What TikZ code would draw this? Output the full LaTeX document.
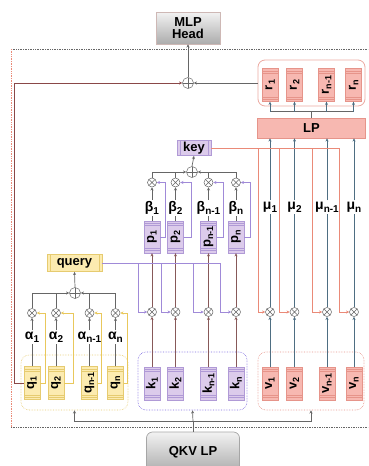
\documentclass[tikz,border=0pt]{standalone}
\usepackage{fontspec}
\setmainfont{Liberation Sans}
\usetikzlibrary{arrows.meta,calc}
\definecolor{qfill}{HTML}{FCEBB0}
\definecolor{qedge}{HTML}{E6CB70}
\definecolor{kfill}{HTML}{DCCBEB}
\definecolor{kedge}{HTML}{B09AD6}
\definecolor{vfill}{HTML}{F7B8B1}
\definecolor{vedge}{HTML}{E6948A}
\definecolor{lgray}{HTML}{666666}
\definecolor{lyel}{HTML}{E9C85C}
\definecolor{lpur}{HTML}{A08AD8}
\definecolor{lred}{HTML}{EA8A78}
\definecolor{lslate}{HTML}{4E6E82}
\definecolor{lloop}{HTML}{8A4848}
\newcommand{\tk}[2]{{\fontsize{13}{13}\selectfont\bfseries #1\raisebox{-2.5pt}{\fontsize{9}{9}\selectfont #2}}}
\newcommand{\gl}[2]{{\fontsize{14}{14}\selectfont\bfseries #1\raisebox{-3pt}{\fontsize{10}{10}\selectfont #2}}}
\tikzset{
  >={Stealth[length=3.2pt,width=3pt]},
  every path/.style={line width=0.7pt},
  vbars/.style={path picture={
    \draw[#1,line width=0.4pt]
      ([yshift=-2.5pt]path picture bounding box.north west) -- ([yshift=-2.5pt]path picture bounding box.north east)
      ([yshift=-4.5pt]path picture bounding box.north west) -- ([yshift=-4.5pt]path picture bounding box.north east)
      ([yshift=2.5pt]path picture bounding box.south west) -- ([yshift=2.5pt]path picture bounding box.south east)
      ([yshift=4.5pt]path picture bounding box.south west) -- ([yshift=4.5pt]path picture bounding box.south east);}},
  hbars/.style={path picture={
    \draw[#1,line width=0.4pt]
      ([xshift=3pt]path picture bounding box.north west) -- ([xshift=3pt]path picture bounding box.south west)
      ([xshift=-3pt]path picture bounding box.north east) -- ([xshift=-3pt]path picture bounding box.south east);}},
  tokbase/.style={minimum width=16pt, minimum height=33pt, inner sep=0pt, line width=0.4pt},
  tq/.style={tokbase, draw=qedge, fill=qfill, vbars=qedge},
  tkk/.style={tokbase, draw=kedge, fill=kfill, vbars=kedge},
  tv/.style={tokbase, draw=vedge, fill=vfill, vbars=vedge},
  mul/.style={circle, draw=lgray, fill=white, minimum size=9pt, inner sep=0pt, line width=0.5pt,
    path picture={\draw[lgray,line width=0.5pt] (path picture bounding box.north west) -- (path picture bounding box.south east)
      (path picture bounding box.north east) -- (path picture bounding box.south west);}},
  addc/.style={circle, draw=lgray, fill=white, minimum size=11pt, inner sep=0pt, line width=0.5pt,
    path picture={\draw[lgray,line width=0.5pt] (path picture bounding box.north) -- (path picture bounding box.south)
      (path picture bounding box.west) -- (path picture bounding box.east);}},
  lab/.style={inner sep=1pt},
  grp/.style={rounded corners=8pt, densely dotted, line width=0.6pt, inner sep=0pt},
  bigbox/.style={top color=gray!10, bottom color=gray!65, inner sep=0pt, align=center,
    font=\fontsize{13}{14}\selectfont\bfseries},
}
\begin{document}
\begin{tikzpicture}[x=1pt,y=-1pt]
\useasboundingbox (0,0) rectangle (368,466);
% outer dotted frame
\draw[densely dotted, gray!80!black, line width=0.6pt] (11,49) -- (368,49);
\draw[densely dotted, lred, line width=0.6pt] (11,49) -- (11,427);
\draw[densely dotted, gray!80!black, line width=0.6pt] (11,427) -- (368,427);

% top
\node[bigbox, draw=vedge!45!gray!60, line width=0.6pt, minimum width=64pt, minimum height=32pt] (mlp) at (188,28) {MLP\\[-2pt]Head};
\node[addc] (o0) at (188,83) {};
\node[draw=vedge!80, rounded corners=7pt, minimum width=107pt, minimum height=46pt, line width=0.8pt] (rg) at (311.5,83) {};
\foreach \i/\x/\s in {1/270/1,2/294.5/2,3/326.5/{n-1},4/353.5/n}
  \node[tv] (r\i) at (\x,85) {\rotatebox{90}{\tk{r}{\s}}};
\node[draw=vedge, fill=vfill, minimum width=108pt, minimum height=20pt, inner sep=0pt,
  font=\fontsize{13}{14}\selectfont\bfseries] (lp) at (311.5,128) {LP};

% v column
\node[grp, draw=vedge, minimum width=106pt, minimum height=58pt] (vg) at (311,381) {};
\foreach \i/\x/\s in {1/270/1,2/294.5/2,3/327/{n-1},4/354/n}{
  \node[tv] (v\i) at (\x,383.5) {\rotatebox{90}{\tk{v}{\s}}};
  \node[mul] (vm\i) at (\x,312) {};
  \node[lab] (mu\i) at (\x,207) {\gl{μ}{\s}};
}
% k column
\node[grp, draw=lpur!80!blue, minimum width=109pt, minimum height=58pt] (kg) at (192.5,381) {};
\foreach \i/\x/\s in {1/152/1,2/175.5/2,3/208.5/{n-1},4/236/n}{
  \node[tkk] (k\i) at (\x,383.5) {\rotatebox{90}{\tk{k}{\s}}};
  \node[mul] (km\i) at (\x,312) {};
  \node[tkk, minimum height=32pt] (p\i) at (\x,237) {\rotatebox{90}{\tk{p}{\s}}};
  \node[lab] (b\i) at (\x,208) {\gl{β}{\s}};
  \node[mul] (bm\i) at (\x,182.5) {};
}
\node[addc] (ok) at (192,172) {};
\node[draw=kedge, fill=kfill, minimum width=34pt, minimum height=15pt, inner sep=0pt, hbars=kedge,
  font=\fontsize{13}{14}\selectfont\bfseries] (key) at (194,148) {key};
% q column
\node[grp, draw=qedge, minimum width=107pt, minimum height=55pt] (qg) at (74.5,382.5) {};
\foreach \i/\x/\s in {1/32/1,2/56/2,3/89.5/{n-1},4/115.5/n}{
  \node[tq] (q\i) at (\x,383) {\rotatebox{90}{\tk{q}{\s}}};
  \node[mul] (qm\i) at (\x,313) {};
  \node[lab] (a\i) at (\x,337) {\gl{α}{\s}};
}
\node[addc] (oq) at (75,293) {};
\node[draw=qedge, fill=qfill, minimum width=55pt, minimum height=17pt, inner sep=0pt, hbars=qedge,
  font=\fontsize{13}{14}\selectfont\bfseries] (query) at (74.5,263) {query};
% QKV
\node[bigbox, draw=gray!70, rounded corners=6pt, minimum width=93pt, minimum height=40pt] (qkv) at (193,452) {QKV LP};

% ---- connectors ----
\draw[->, lgray] (o0.north) -- (mlp.south);
\draw[->, lgray] (rg.west) -- (o0.east);
\draw[->, lloop] (q1.west) -- ++(-9,0) |- (o0.west);
% LP to r
\coordinate (lpt) at ($(lp.north)+(0,-6)$);
\draw[lgray] (lp.north) -- (lpt);
\draw[lgray] (r1.south |- lpt) -- (r4.south |- lpt);
\foreach \i in {1,...,4} \draw[->, lslate] (r\i.south |- lpt) -- (r\i.south);
% v / mu
\foreach \i in {1,...,4}{
  \draw[->, lslate] (v\i.north) -- (vm\i.south);
  \draw[lslate] (vm\i.north) -- (mu\i.south);
  \draw[->, lslate] (mu\i.north) -- (mu\i.north |- lp.south);
}
% key red lines
\coordinate (kx1) at (258,148);
\coordinate (kx2) at (279,148);
\coordinate (kx3) at (312,148);
\coordinate (kx4) at (339,148);
\draw[lred] (key.east) -- (kx4);
\foreach \i in {1,...,4} \draw[->, lred] (kx\i) |- (vm\i.west);
% k / p / beta
\foreach \i/\d in {1/13,2/16,3/15,4/14}{
  \draw[->, lloop!70!gray] (k\i.north) -- (km\i.south);
  \draw[->, lloop!70!gray] (km\i.north) -- (p\i.south);
  \draw[lgray] (p\i.north) -- (b\i.south);
  \draw[->, lgray] (b\i.north) -- (bm\i.south);
  \draw[->, lpur] (p\i.east) -- ++(\d-8,0) |- (bm\i.east);
}
\draw[->, lgray] (bm1.north) |- (ok.west);
\draw[->, lgray] (bm4.north) |- (ok.east);
\draw[lgray] (bm2.north) -- (bm2.north |- ok);
\draw[lgray] (bm3.north) -- (bm3.north |- ok);
\draw[->, lgray] (ok.north) -- (key.south);
% query purple lines
\coordinate (qx1) at (138,263);
\coordinate (qx2) at (161,263);
\coordinate (qx3) at (193,263);
\coordinate (qx4) at (220,263);
\draw[lpur] (query.east) -- (qx4);
\foreach \i in {1,...,4} \draw[->, lpur] (qx\i) |- (km\i.west);
% q / alpha
\foreach \i/\d in {1/5,2/9,3/4,4/4}{
  \draw[lgray] (q\i.north) -- (a\i.south);
  \draw[->, lgray] (a\i.north) -- (qm\i.south);
  \draw[->, lyel] (q\i.east) -- ++(\d,0) |- (qm\i.east);
}
\draw[->, lgray] (qm1.north) |- (oq.west);
\draw[->, lgray] (qm4.north) |- (oq.east);
\draw[lgray] (qm2.north) -- (qm2.north |- oq);
\draw[lgray] (qm3.north) -- (qm3.north |- oq);
\draw[->, lgray] (oq.north) -- (query.south);
% QKV
\coordinate (qt) at ($(qkv.north)+(0,-10)$);
\draw[lgray] (qkv.north) -- (qt);
\draw[lgray] (qg.south |- qt) -- (vg.south |- qt);
\draw[->, lgray] (qg.south |- qt) -- (qg.south);
\draw[->, lgray] (qt) -- (kg.south);
\draw[->, lgray] (vg.south |- qt) -- (vg.south);
\end{tikzpicture}
\end{document}
